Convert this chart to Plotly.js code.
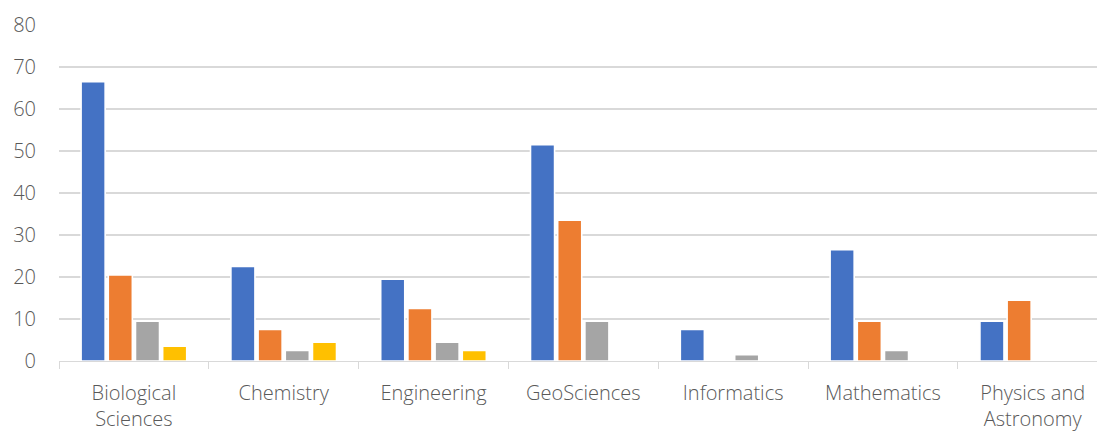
<!DOCTYPE html>
<html>
<head>
<meta charset="utf-8">
<script src="https://cdn.plot.ly/plotly-3.0.1.min.js"></script>
<style>
  html, body { margin: 0; padding: 0; background: #fff; overflow: hidden; }
  #chart { width: 1097px; height: 432px; }
</style>
</head>
<body>
<div id="chart"></div>
<script>
// Subject areas along the category axis
const categories = [
  "Biological<br>Sciences", "Chemistry", "Engineering", "GeoSciences",
  "Informatics", "Mathematics", "Physics and<br>Astronomy"
];

// One array per series, in category order
const series1 = [66.5, 22.5, 19.5, 51.5, 7.5, 26.5, 9.5];
const series2 = [20.5, 7.5, 12.5, 33.5, 0, 9.5, 14.5];
const series3 = [9.5, 2.5, 4.5, 9.5, 1.5, 2.5, 0.2];
const series4 = [3.5, 4.5, 2.5, 0.2, 0, 0, 0.2];

const seriesNames = ["Series 1", "Series 2", "Series 3", "Series 4"];
const seriesColors = ["#4472C4", "#ED7D31", "#A5A5A5", "#FFC000"];

const yTicks = [0, 10, 20, 30, 40, 50, 60, 70, 80];

const traces = [series1, series2, series3, series4].map((vals, i) => ({
  type: "bar",
  name: seriesNames[i],
  x: categories,
  y: vals,
  marker: { color: seriesColors[i], line: { color: "#ffffff", width: 1.6 } },
  hoverinfo: "x+y"
}));

const layout = {
  width: 1097,
  height: 432,
  margin: { l: 59, r: 0, t: 25, b: 70.5, pad: 0 },
  paper_bgcolor: "#ffffff",
  plot_bgcolor: "#ffffff",
  showlegend: false,
  barmode: "group",
  bargap: 0.274,
  bargroupgap: 0.115,
  font: { family: "Open Sans, sans-serif", color: "#595959", weight: 300 },
  xaxis: {
    type: "category",
    range: [-0.5, 6.429],
    tickson: "boundaries",
    ticks: "outside",
    ticklen: 7,
    tickwidth: 1,
    tickcolor: "#d9d9d9",
    showgrid: false,
    showline: true,
    linecolor: "#d9d9d9",
    linewidth: 1.3,
    ticklabelstandoff: 14,
    tickfont: { size: 20, color: "#595959", weight: 300 },
    fixedrange: true
  },
  yaxis: {
    range: [0, 80],
    tickvals: yTicks,
    ticktext: yTicks.map(String),
    showgrid: true,
    gridcolor: "#d9d9d9",
    gridwidth: 1.3,
    zeroline: false,
    showline: false,
    ticks: "",
    ticklabelstandoff: 22,
    tickfont: { size: 20, color: "#595959", weight: 300 },
    fixedrange: true
  }
};

Plotly.newPlot("chart", traces, layout, { displayModeBar: false, staticPlot: true });
</script>
</body>
</html>
